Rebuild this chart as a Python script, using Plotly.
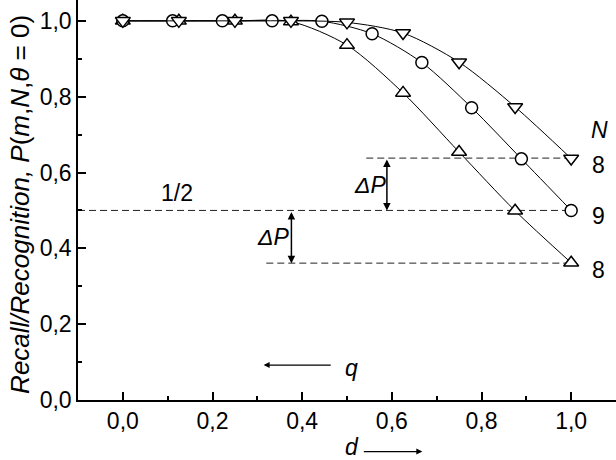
"""Recall/recognition probability vs. distance d for N = 8 and N = 9."""

import plotly.graph_objects as go

# distance values (k/9 and k/8 grids)
d_n9 = [0.0, 0.111, 0.222, 0.333, 0.444, 0.556, 0.667, 0.778, 0.889, 1.0]
d_n8 = [0.0, 0.125, 0.25, 0.375, 0.5, 0.625, 0.75, 0.875, 1.0]

# P(m, N, theta=0)
p_n9 = [1.0, 1.0, 1.0, 1.0, 0.999, 0.966, 0.890, 0.771, 0.636, 0.500]
p_n8_upper = [1.0, 1.0, 1.0, 1.0, 0.996, 0.968, 0.891, 0.773, 0.637]
p_n8_lower = [1.0, 1.0, 1.0, 0.998, 0.936, 0.810, 0.654, 0.499, 0.362]

# reference levels (1/2 and the two Delta P bounds)
half_x = [-0.1, 1.0]
half_y = [0.5, 0.5]
dp_upper_x = [0.543, 1.0]
dp_upper_y = [0.638, 0.638]
dp_lower_x = [0.32, 1.0]
dp_lower_y = [0.361, 0.361]

x_ticks = [0.0, 0.2, 0.4, 0.6, 0.8, 1.0]
y_ticks = [0.0, 0.2, 0.4, 0.6, 0.8, 1.0]

FONT = 'Liberation Sans, Arial, sans-serif'
BLACK = '#000000'

fig = go.Figure()

# dashed reference lines
for xs, ys in [(half_x, half_y), (dp_upper_x, dp_upper_y), (dp_lower_x, dp_lower_y)]:
    fig.add_trace(go.Scatter(
        x=xs, y=ys, mode='lines',
        line=dict(color='#222222', width=1, dash='7px,4px'),
        hoverinfo='skip', showlegend=False,
    ))

series = [
    (d_n8, p_n8_lower, 'triangle-up', 13),
    (d_n9, p_n9, 'circle', 12),
    (d_n8, p_n8_upper, 'triangle-down', 13),
]
for xs, ys, symbol, size in series:
    fig.add_trace(go.Scatter(
        x=xs, y=ys, mode='lines+markers',
        line=dict(color=BLACK, width=1, shape='spline', smoothing=0.8),
        marker=dict(symbol=symbol, size=size, color='white',
                    line=dict(color=BLACK, width=1.5)),
        showlegend=False, cliponaxis=False,
    ))

annotations = [
    dict(x=0.121, y=0.545, text='1/2'),
    dict(x=0.552, y=0.567, text='<i>ΔP</i>'),
    dict(x=0.336, y=0.431, text='<i>ΔP</i>'),
    dict(x=1.064, y=0.712, text='<i>N</i>'),
    dict(x=1.060, y=0.620, text='8'),
    dict(x=1.060, y=0.485, text='9'),
    dict(x=1.060, y=0.343, text='8'),
    dict(x=0.511, y=0.085, text='<i>q</i>'),
]
for a in annotations:
    fig.add_annotation(xref='x', yref='y', showarrow=False,
                       font=dict(family=FONT, size=23, color=BLACK), **a)

# "d" label below the axis (paper y, since it lies outside the y range)
fig.add_annotation(x=0.511, y=-0.118, xref='x', yref='paper', text='<i>d</i>',
                   xanchor='center', yanchor='middle',
                   showarrow=False, font=dict(family=FONT, size=23, color=BLACK))

# double-headed Delta P arrows
for x0, y_top, y_bot in [(0.589, 0.638, 0.5), (0.376, 0.5, 0.361)]:
    fig.add_annotation(
        x=x0, y=y_bot, ax=x0, ay=y_top, xref='x', yref='y', axref='x', ayref='y',
        text='', showarrow=True, arrowhead=2, arrowside='end+start',
        arrowsize=1, arrowwidth=1.5, arrowcolor=BLACK,
    )

# q and d direction arrows
fig.add_annotation(x=0.314, y=0.092, ax=0.467, ay=0.092, xref='x', yref='y',
                   axref='x', ayref='y', text='', showarrow=True, arrowhead=2,
                   arrowsize=1, arrowwidth=1.2, arrowcolor=BLACK)
fig.add_annotation(x=0.668, y=-0.129, ax=-60, ay=0, xref='x', yref='paper',
                   text='', showarrow=True, arrowhead=2,
                   arrowsize=1, arrowwidth=1.2, arrowcolor=BLACK)

# rotated y title
fig.add_annotation(
    xref='paper', yref='paper', x=-0.108, y=0.49, xanchor='center', yanchor='middle',
    textangle=-90, showarrow=False,
    text='<i>Recall/Recognition, P</i>(<i>m</i>,<i>N</i>,<i>θ</i> = 0)',
    font=dict(family=FONT, size=26, color=BLACK),
)

axis_common = dict(
    showline=True, linecolor=BLACK, linewidth=1.5, mirror=False,
    ticks='inside', ticklen=8, tickwidth=1.5, tickcolor=BLACK,
    showgrid=False, zeroline=False, tickformat='.1f', automargin=False,
    tickfont=dict(family=FONT, size=23, color=BLACK),
    minor=dict(ticks='inside', ticklen=4, tickwidth=1.5, tickcolor=BLACK, dtick=0.1, tick0=0),
)

fig.update_layout(
    width=616, height=460,
    margin=dict(l=78, r=0, t=0, b=60, autoexpand=False),
    plot_bgcolor='white', paper_bgcolor='white',
    separators=', ',
    xaxis=dict(range=[-0.1, 1.1], tickvals=x_ticks, **axis_common),
    yaxis=dict(range=[0, 1.055], tickvals=y_ticks, **axis_common),
)

# drop the browser's default 8px body margin so the figure sits at the page origin
fig.write_html("out.html", config={'displayModeBar': False},
               post_script="document.body.style.margin='0';")
